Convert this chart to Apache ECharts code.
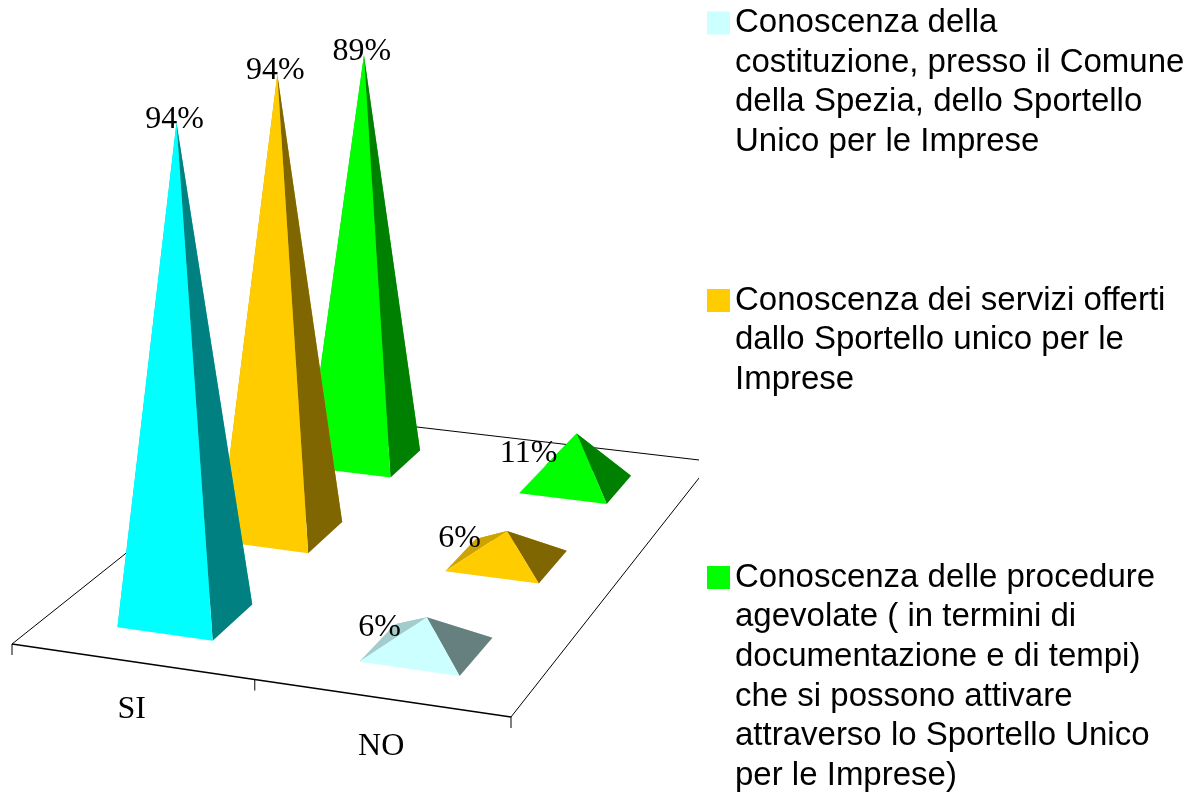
<!DOCTYPE html>
<html><head><meta charset="utf-8">
<style>html,body{margin:0;padding:0;background:#fff}#c{width:1193px;height:793px}</style>
<script src="https://cdn.jsdelivr.net/npm/echarts@6/dist/echarts.min.js"></script>
</head><body><div id="c"></div>
<script>
const categories = ['SI', 'NO'];
const seriesNames = [
  'Conoscenza della\ncostituzione, presso il Comune\ndella Spezia, dello Sportello\nUnico per le Imprese',
  'Conoscenza dei servizi offerti\ndallo Sportello unico per le\nImprese',
  'Conoscenza delle procedure\nagevolate ( in termini di\ndocumentazione e di tempi)\nche si possono attivare\nattraverso lo Sportello Unico\nper le Imprese)'
];
const valuesCostituzione = [94, 6];
const valuesServizi = [94, 6];
const valuesProcedure = [89, 11];
const legendColors = ['#CCFFFF', '#FFCC00', '#00FF00'];
const pointColors = [['#00FFFF', '#CCFFFF'], ['#FFCC00', '#FFCC00'], ['#00FF00', '#00FF00']];

// floor quad of the 3-D box as seen on screen: front-left, front-right, back-right, back-left
const Q = [[12,644],[511,717],[712,461.5],[301.5,413.5]];
function makeH(q){
  const [x0,y0]=q[0],[x1,y1]=q[1],[x2,y2]=q[2],[x3,y3]=q[3];
  const dx1=x1-x2,dx2=x3-x2,sx=x0-x1+x2-x3,dy1=y1-y2,dy2=y3-y2,sy=y0-y1+y2-y3;
  const d=dx1*dy2-dx2*dy1;
  const g=(sx*dy2-dx2*sy)/d,h=(dx1*sy-sx*dy1)/d;
  return {a:x1-x0+g*x1,b:x3-x0+h*x3,c:x0,d:y1-y0+g*y1,e:y3-y0+h*y3,f:y0,g,h};
}
const H = makeH(Q);
function proj(s,t){const w=H.g*s+H.h*t+1;return [(H.a*s+H.b*t+H.c)/w,(H.d*s+H.e*t+H.f)/w];}
function depthScale(s,t){return 1/(H.g*s+H.h*t+1);}
function shade(hex,k){
  const c=echarts.color.parse(hex);
  return 'rgb('+Math.round(c[0]*k)+','+Math.round(c[1]*k)+','+Math.round(c[2]*k)+')';
}

const halfS = 0.1, halfT = 0.066, rows = 3;
const shiftS = 0.003, shiftT = -0.004;
const vanishX = 363, tiltPerPx = 1.04e-4; // vertical edges fan out slightly upward
const serifFont = '32px "Liberation Serif"';

function pyramidRender(row){
  return function(params, api){
    const i = params.dataIndex, cs = params.coordSys;
    const val = api.value(1);
    const s = (api.coord([i,0])[0]-cs.x)/cs.width + shiftS;
    const t = (row+0.5)/rows + shiftT;
    const FL=proj(s-halfS,t-halfT),FR=proj(s+halfS,t-halfT),BR=proj(s+halfS,t+halfT),BL=proj(s-halfS,t+halfT);
    const C=proj(s,t);
    const hpx=api.size([0,val])[1]*depthScale(s,t);
    const A=[C[0]+hpx*(C[0]-vanishX)*tiltPerPx,C[1]-hpx];
    const col=pointColors[row][i];
    const dark=shade(col,0.5), mid=shade(col,0.8);
    const face=(pts,fill)=>({type:'polygon',shape:{points:pts},style:{fill:fill,stroke:null}});
    const tall=val>50;
    const lx=tall?A[0]-2:C[0]-47, ly=tall?A[1]-3.5:C[1]-22-(val-6)*1.7;
    return {type:'group',children:[
      face([BL,BR,A],mid),
      face([FL,BL,A],mid),
      face([FR,BR,A],dark),
      face([FL,FR,A],col),
      {type:'text',style:{text:val+'%',x:lx,y:ly,align:'center',verticalAlign:'middle',font:serifFont,fill:'#000'}}
    ]};
  };
}
function floorRender(params, api){
  const i=params.dataIndex, cs=params.coordSys;
  const band=api.size([1,0])[0]/cs.width;
  const mid=(api.coord([i,0])[0]-cs.x)/cs.width;
  const line=(a,b,w)=>({type:'line',shape:{x1:a[0],y1:a[1],x2:b[0],y2:b[1]},style:{stroke:'#000',lineWidth:w}});
  const tick=s=>{const p=proj(s,0);return line(p,[p[0],p[1]+11],1);};
  const kids=[tick(mid-band/2)];
  if(i===categories.length-1) kids.push(tick(mid+band/2));
  if(i===0){
    kids.push(line(Q[0],Q[1],1.6),line(Q[0],Q[3],1),line(Q[3],Q[2],1),line(Q[1],Q[2],1));
  }
  const lp=proj(mid,0);
  kids.push({type:'text',style:{text:categories[i],x:lp[0],y:lp[1]+(i?49:48),align:'center',verticalAlign:'middle',font:serifFont,fill:'#000'}});
  return {type:'group',clipPath:{type:'rect',shape:{x:0,y:0,width:699,height:793}},children:kids};
}

const allValues=[valuesCostituzione,valuesServizi,valuesProcedure];
const lh=39.7;
function legendOf(k,firstLineY){
  const n=seriesNames[k].split('\n').length;
  const blankLead='\n'.repeat(n-1);
  return {show:true,orient:'vertical',left:707,top:firstLineY-(2*n-1)*lh/2,padding:0,itemWidth:23,itemHeight:23,itemGap:0,selectedMode:false,
    data:[{name:seriesNames[k],icon:'rect'}],
    formatter:name=>blankLead+name,
    textStyle:{fontFamily:'Liberation Sans',fontSize:33,lineHeight:lh,color:'#000'}};
}
const series=[{
  type:'custom',name:'floor',z:1,silent:true,
  data:categories.map((c,i)=>[c,0]),renderItem:floorRender
}];
allValues.forEach((vals,row)=>{
  series.push({type:'custom',name:seriesNames[row],z:4-row,silent:true,
    itemStyle:{color:legendColors[row]},
    data:categories.map((c,i)=>[c,vals[i]]),
    renderItem:pyramidRender(row)});
});
const chart=echarts.init(document.getElementById('c'),null,{renderer:'canvas'});
chart.setOption({
  animation:false,backgroundColor:'#fff',
  tooltip:{show:false},
  grid:{left:0,width:1000,top:100,height:538},
  xAxis:{type:'category',data:categories,show:false},
  yAxis:{type:'value',min:0,max:100,show:false},
  legend:[legendOf(0,23),legendOf(1,300.5),legendOf(2,577.5)],
  series:series
});
</script></body></html>
